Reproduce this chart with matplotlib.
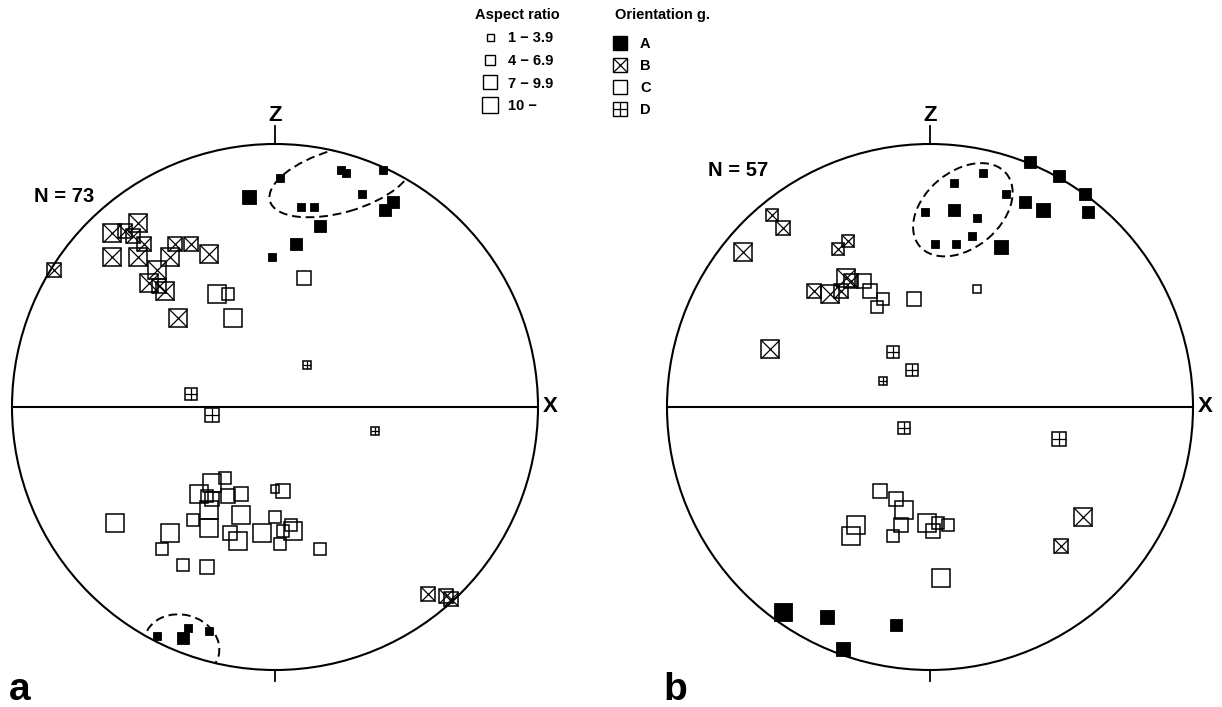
import matplotlib
matplotlib.use('Agg')
import matplotlib.pyplot as plt
from matplotlib.patches import Circle, Ellipse
from matplotlib.lines import Line2D

# point positions in percent of the net radius (x to the right, y up),
# third value = aspect ratio class (1: 1-3.9, 2: 4-6.9, 3: 7-9.9, 4: 10-)
a_A = [(-10, 80, 3), (2, 87, 1), (25, 90, 1), (27, 89, 1), (41, 90, 1),
       (33, 81, 1), (10, 76, 1), (15, 76, 1), (45, 78, 2), (42, 75, 2),
       (17, 69, 2), (8, 62, 2), (-1, 57, 1),
       (-45, -87, 1), (-35, -88, 2), (-33, -84, 1), (-25, -85, 1)]
a_B = [(-84, 52, 3), (-62, 66, 4), (-57, 67, 3), (-52, 70, 4), (-54, 65, 3),
       (-50, 62, 3), (-62, 57, 4), (-52, 57, 4), (-38, 62, 3), (-32, 62, 3),
       (-25, 58, 4), (-40, 57, 4), (-45, 52, 4), (-48, 47, 4), (-44, 46, 3),
       (-42, 44, 4), (-37, 34, 4),
       (58, -71, 3), (65, -72, 3), (67, -73, 3)]
a_C = [(-22, 43, 4), (-18, 43, 2), (-16, 34, 4), (11, 49, 3),
       (-61, -44, 4), (-40, -48, 4), (-43, -54, 2), (-35, -60, 2), (-26, -61, 3),
       (-31, -43, 2), (-25, -46, 4), (-25, -39, 4), (-29, -33, 4), (-24, -29, 4),
       (-26, -34, 2), (-24, -35, 3), (-19, -27, 2), (-18, -34, 3), (-13, -33, 3),
       (-13, -41, 4), (-17, -48, 3), (-14, -51, 4), (-5, -48, 4), (0, -42, 2),
       (3, -32, 3), (0, -31, 1), (6, -45, 2), (7, -47, 4), (3, -47, 2),
       (2, -52, 2), (17, -54, 2)]
a_D = [(-32, 5, 2), (-24, -3, 3), (12, 16, 1), (38, -9, 1)]

b_A = [(38, 93, 2), (49, 88, 2), (59, 81, 2), (60, 74, 2), (36, 78, 2),
       (43, 75, 3), (27, 61, 3), (20, 89, 1), (9, 85, 1), (29, 81, 1),
       (-2, 74, 1), (9, 75, 2), (18, 72, 1), (2, 62, 1), (10, 62, 1), (16, 65, 1),
       (-56, -78, 4), (-39, -80, 3), (-13, -83, 2), (-33, -92, 3)]
b_B = [(-60, 73, 2), (-56, 68, 3), (-71, 59, 4), (-35, 60, 2), (-31, 63, 2),
       (-44, 44, 3), (-38, 43, 4), (-34, 44, 3), (-32, 49, 4), (-30, 48, 3),
       (-61, 22, 4), (58, -42, 4), (50, -53, 3)]
b_C = [(-25, 48, 3), (-23, 44, 3), (-18, 41, 2), (-20, 38, 2), (-6, 41, 3),
       (18, 45, 1), (4, -65, 4),
       (-19, -32, 3), (-13, -35, 3), (-10, -39, 4), (-11, -45, 3), (-14, -49, 2),
       (-28, -45, 4), (-30, -49, 4), (-1, -44, 4), (1, -47, 3), (3, -44, 2),
       (7, -45, 2)]
b_D = [(-14, 21, 2), (-7, 14, 2), (-18, 10, 1), (-10, -8, 2), (49, -12, 3)]

n_labels = ['N = 73', 'N = 57']
ratio_labels = ['1 \u2212 3.9', '4 \u2212 6.9', '7 \u2212 9.9', '10 \u2212']
group_labels = ['A', 'B', 'C', 'D']

SIZE_PT = {1: 5.6, 2: 8.4, 3: 10.6, 4: 13.4}

plt.rcParams['font.family'] = ['Liberation Sans', 'DejaVu Sans']
plt.rcParams['font.weight'] = 'bold'

W, H = 1222, 707
R_PX = 263
fig = plt.figure(figsize=(W / 100, H / 100), dpi=100)


def make_net(cx, cy=407, half=300):
    ax = fig.add_axes([(cx - half) / W, (H - cy - half) / H, 2 * half / W, 2 * half / H])
    lim = 100 * half / R_PX
    ax.set_xlim(-lim, lim)
    ax.set_ylim(-lim, lim)
    ax.axis('off')
    circ = Circle((0, 0), 100, fill=False, lw=1.5, color='black')
    ax.add_patch(circ)
    ax.plot([-100, 100], [0, 0], color='black', lw=1.5)
    ax.plot([0, 0], [100, 107], color='black', lw=1.3)
    ax.plot([0, 0], [-100, -104], color='black', lw=1.3)
    ax.text(0, 111, 'Z', ha='center', va='center', fontsize=16)
    ax.text(104.5, 0, 'X', ha='center', va='center', fontsize=16)
    return ax, circ


def draw(ax, pts, kind):
    for x, y, s in pts:
        ms = SIZE_PT[s]
        if kind == 'A':
            ax.plot(x, y, 's', ms=ms, mfc='black', mec='black', mew=0.6)
        else:
            ax.plot(x, y, 's', ms=ms, mfc='none', mec='black', mew=1.1)
        if kind == 'B':
            ax.plot(x, y, 'x', ms=ms, mec='black', mew=0.9)
        if kind == 'D':
            ax.plot(x, y, '+', ms=ms, mec='black', mew=0.9)


def outline(ax, circ, xy, w, h, ang):
    e = Ellipse(xy, w, h, angle=ang, fill=False, color='black', lw=1.4,
                linestyle=(0, (4.5, 2.5)))
    ax.add_patch(e)
    e.set_clip_path(circ)


ax1, c1 = make_net(275)
for pts, k in zip([a_A, a_B, a_C, a_D], group_labels):
    draw(ax1, pts, k)
outline(ax1, c1, (25, 86), 56, 24, 16)
outline(ax1, c1, (-35.5, -91), 29, 24, -15)
ax1.text(-80, 80, n_labels[0], ha='center', va='center', fontsize=14.5)

ax2, c2 = make_net(930)
for pts, k in zip([b_A, b_B, b_C, b_D], group_labels):
    draw(ax2, pts, k)
outline(ax2, c2, (12.5, 75), 43, 29, 40)
ax2.text(-73, 90, n_labels[1], ha='center', va='center', fontsize=14.5)

fig.text(20 / W, 1 - 690 / H, 'a', ha='center', va='center', fontsize=28)
fig.text(675 / W, 1 - 690 / H, 'b', ha='center', va='center', fontsize=28)

# legends
font = {'weight': 'bold', 'size': 10.5}
fig.text(475 / W, 1 - 15 / H, 'Aspect ratio', ha='left', va='center', fontsize=10.5)
fig.text(615 / W, 1 - 15 / H, 'Orientation g.', ha='left', va='center', fontsize=10.5)

ratio_handles = [Line2D([], [], marker='s', ls='none', ms=SIZE_PT[k] * 0.9,
                        mfc='none', mec='black', mew=1.0) for k in (1, 2, 3, 4)]
fig.legend(ratio_handles, ratio_labels, loc='upper left',
           bbox_to_anchor=(474 / W, 1 - 31 / H), frameon=False, prop=font,
           labelspacing=0.6, handletextpad=0.1, handlelength=2.2,
           borderpad=0, borderaxespad=0)

sq = dict(marker='s', ls='none', ms=10, mec='black', mew=1.0)
group_handles = [
    Line2D([], [], mfc='black', **sq),
    (Line2D([], [], mfc='none', **sq), Line2D([], [], marker='x', ls='none', ms=10, mec='black', mew=0.9)),
    Line2D([], [], mfc='none', **sq),
    (Line2D([], [], mfc='none', **sq), Line2D([], [], marker='+', ls='none', ms=10, mec='black', mew=0.9)),
]
fig.legend(group_handles, group_labels, loc='upper left',
           bbox_to_anchor=(613 / W, 1 - 37 / H), frameon=False, prop=font,
           labelspacing=0.55, handletextpad=0.85, handlelength=1.0,
           borderpad=0, borderaxespad=0)

fig.savefig('out.png', dpi=100, facecolor='white')
